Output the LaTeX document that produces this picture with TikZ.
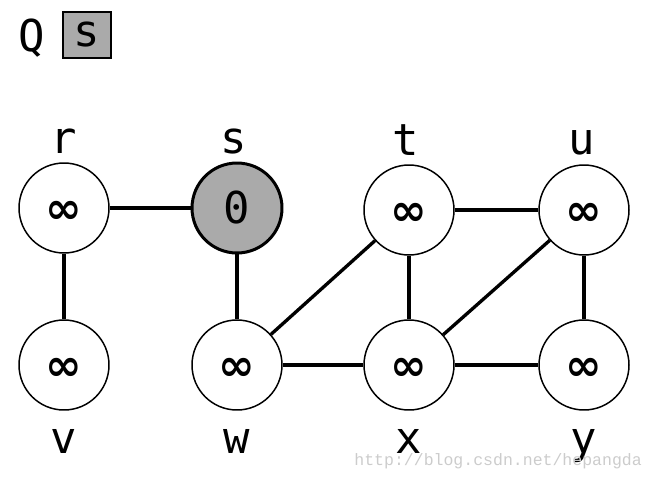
\documentclass[tikz,border=0pt]{standalone}
\usepackage{fontspec}
\newfontfamily\graphfont{DejaVu Sans Mono}
\newfontfamily\symfont{DejaVu Sans}
\newfontfamily\markfont{Liberation Mono}
\definecolor{queuegray}{HTML}{AAAAAA}
\definecolor{markgray}{HTML}{CCCCCC}
\newcommand{\infdist}{\raisebox{-0.36em}[0pt][0pt]{\symfont\bfseries ∞}}
\begin{document}
\begin{tikzpicture}[x=0.02cm, y=-0.02cm,
  vertex/.style={circle, draw, line width=0.85pt, fill=white, minimum size=1.8cm,
    inner sep=0pt, font=\graphfont\fontsize{25}{28}\selectfont},
  source/.style={vertex, fill=queuegray, line width=1.7pt},
  vname/.style={anchor=base, inner sep=0pt, font=\graphfont\fontsize{25}{28}\selectfont},
  edge/.style={line width=1.9pt}]
  \useasboundingbox (0,0) rectangle (658,480);

  % Queue
  \node[vname] (Q) at (32,51) {Q};
  \node[draw, line width=1pt, fill=queuegray, minimum width=0.96cm, minimum height=0.92cm,
    inner sep=0pt, font=\graphfont\fontsize{25}{28}\selectfont] (Qs) at (87,35) {s};

  % Vertices
  \node[vertex] (r) at (64,208) {\infdist};
  \node[source] (s) at (237,208) {0};
  \node[vertex] (t) at (409,210) {\infdist};
  \node[vertex] (u) at (584,210) {\infdist};
  \node[vertex] (v) at (64,365) {\infdist};
  \node[vertex] (w) at (237,365) {\infdist};
  \node[vertex] (x) at (409,365) {\infdist};
  \node[vertex] (y) at (584,365) {\infdist};

  % Labels
  \node[vname] (rl) at (64,153) {r};
  \node[vname] (sl) at (234,153) {s};
  \node[vname] (tl) at (406,155) {t};
  \node[vname] (ul) at (582,154) {u};
  \node[vname] (vl) at (64,453) {v};
  \node[vname] (wl) at (237,453) {w};
  \node[vname] (xl) at (409,453) {x};
  \node[vname] (yl) at (584,453) {y};

  % Edges
  \draw[edge] (r) -- (s);
  \draw[edge] (r) -- (v);
  \draw[edge] (s) -- (w);
  \draw[edge] (w) -- (t);
  \draw[edge] (w) -- (x);
  \draw[edge] (t) -- (u);
  \draw[edge] (t) -- (x);
  \draw[edge] (x) -- (u);
  \draw[edge] (x) -- (y);
  \draw[edge] (u) -- (y);

  % Watermark
  \node[markgray, font=\markfont\fontsize{9.4}{11}\selectfont, anchor=east] (mark) at (648,461)
    {http://blog.csdn.net/hepangda};
\end{tikzpicture}
\end{document}
